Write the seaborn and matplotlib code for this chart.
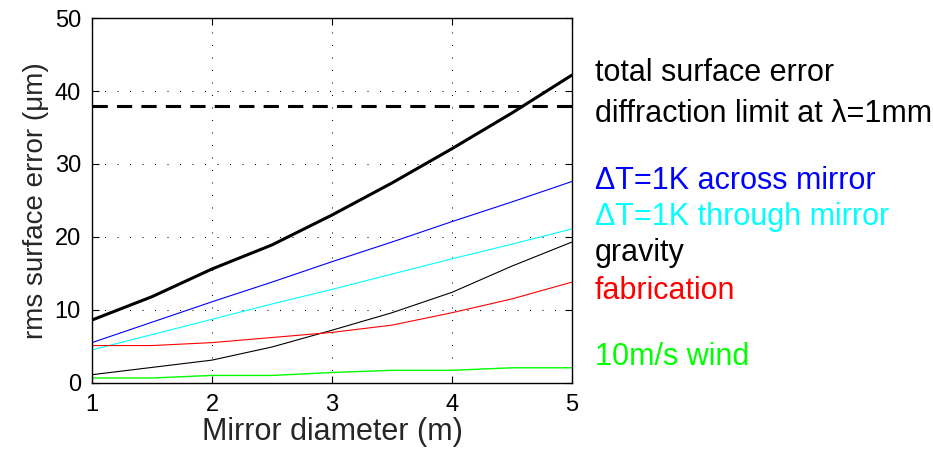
import numpy as np
import pandas as pd
import matplotlib
matplotlib.use('Agg')
import matplotlib.pyplot as plt
import seaborn as sns

# mirror diameter (m)
diameter = [1, 1.5, 2, 2.5, 3, 3.5, 4, 4.5, 5]

# rms surface error contributions (um)
total = [8.6, 11.8, 15.6, 18.9, 23.0, 27.4, 32.1, 37.0, 42.2]
dT_across = [5.5, 8.3, 11.1, 13.8, 16.6, 19.3, 22.1, 24.8, 27.6]
dT_through = [4.5, 6.6, 8.7, 10.8, 12.8, 14.9, 17.0, 19.0, 21.1]
gravity = [1.1, 2.1, 3.1, 4.9, 7.2, 9.6, 12.4, 16.0, 19.3]
fabrication = [5.1, 5.1, 5.5, 6.2, 6.9, 7.9, 9.6, 11.5, 13.8]
wind = [0.65, 0.65, 1.0, 1.0, 1.4, 1.7, 1.7, 2.05, 2.05]
diff_limit = 38.0

series = [
    ('total surface error', total, 'black', 2.2),
    ('dT across', dT_across, 'blue', 0.8),
    ('dT through', dT_through, 'cyan', 0.8),
    ('gravity', gravity, 'black', 0.8),
    ('fabrication', fabrication, 'red', 0.8),
    ('wind', wind, '#00ff00', 1.0),
]

sns.set_theme(style='ticks')
plt.rcParams['font.family'] = ['Liberation Sans', 'DejaVu Sans']

fig = plt.figure(figsize=(9.33, 4.54), dpi=100)
ax = fig.add_axes([0.0986, 0.157, 0.5145, 0.803])

for name, vals, col, lw in series:
    df = pd.DataFrame({'d': diameter, 'err': vals})
    sns.lineplot(data=df, x='d', y='err', color=col, lw=lw, ax=ax)

ax.axhline(diff_limit, color='black', lw=2.2, ls=(0, (5, 3)))

ax.set_xlim(1, 5)
ax.set_ylim(0, 50)
ax.set_xticks([1, 2, 3, 4, 5])
ax.set_yticks([0, 10, 20, 30, 40, 50])
ax.grid(True, color='black', lw=0.75, ls=(0, (1, 11)))
for s in ax.spines.values():
    s.set_color('black')
    s.set_linewidth(1.0)
ax.tick_params(direction='in', length=5, width=0.8, colors='black',
               labelsize=17, top=True, right=True, pad=8)
ax.set_xlabel('Mirror diameter (m)', fontsize=22, labelpad=1)
ax.set_ylabel('rms surface error (\u03bcm)', fontsize=20, labelpad=4)

# text labels right of the axes
labels = [
    ('total surface error', 'black', 73),
    ('diffraction limit at \u03bb=1mm', 'black', 114),
    ('\u0394T=1K across mirror', 'blue', 181),
    ('\u0394T=1K through mirror', 'cyan', 217),
    ('gravity', 'black', 253),
    ('fabrication', 'red', 291),
    ('10m/s wind', '#00ff00', 357),
]
for txt, col, ypix in labels:
    fig.text(595 / 933, 1 - ypix / 454, txt, color=col, fontsize=22,
             va='center', ha='left')

fig.savefig('out.png', dpi=100)
